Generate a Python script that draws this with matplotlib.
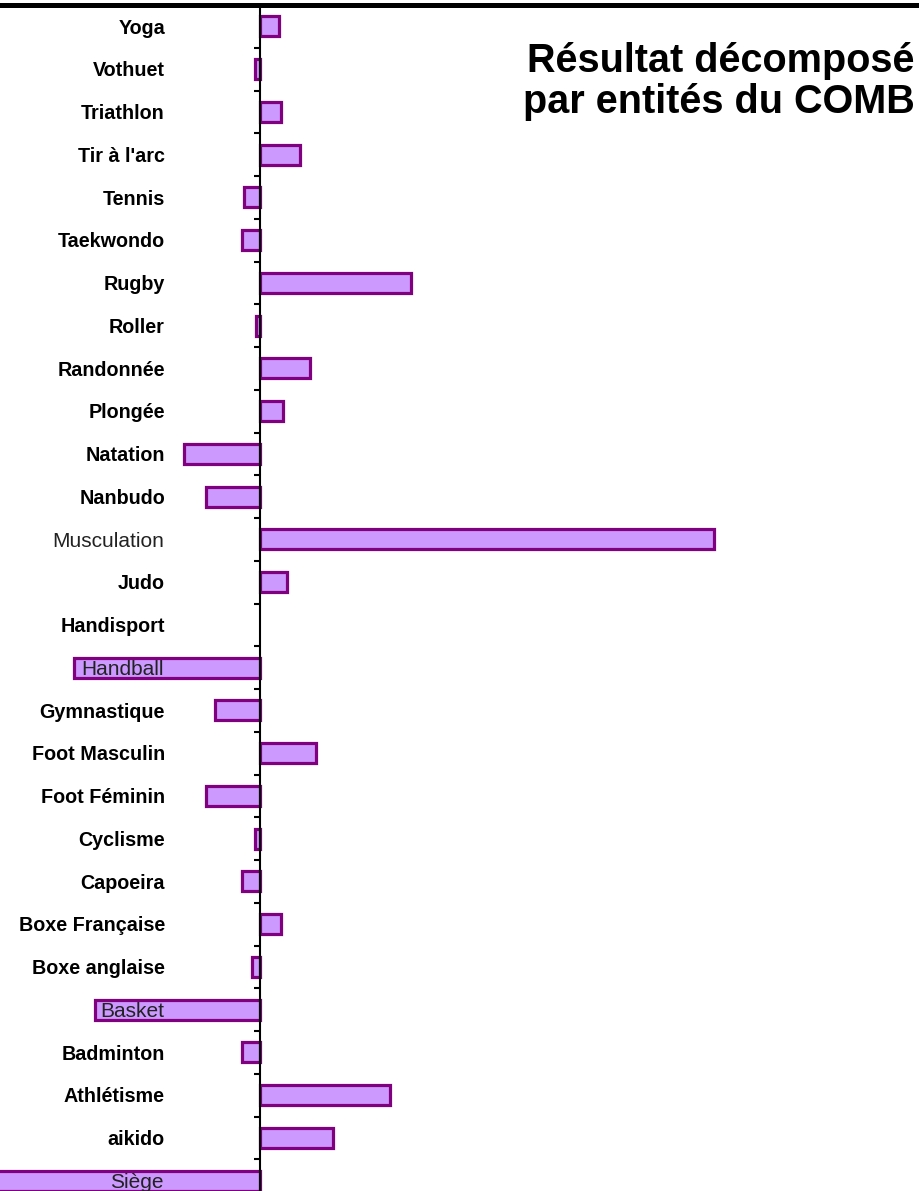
import matplotlib.pyplot as plt

# categories from top to bottom (arbitrary units)
entites = ['Yoga', 'Vothuet', 'Triathlon', "Tir à l'arc", 'Tennis', 'Taekwondo',
           'Rugby', 'Roller', 'Randonnée', 'Plongée', 'Natation', 'Nanbudo',
           'Musculation', 'Judo', 'Handisport', 'Handball', 'Gymnastique',
           'Foot Masculin', 'Foot Féminin', 'Cyclisme', 'Capoeira',
           'Boxe Française', 'Boxe anglaise', 'Basket', 'Badminton',
           'Athlétisme', 'aikido', 'Siège']
resultats = [19, -5, 21, 40, -16, -18,
             151, -4, 50, 23, -76, -54,
             454, 27, 0, -186, -45,
             56, -54, -5, -18,
             21, -8, -165, -18,
             130, 73, -300]
# labels rendered in plain weight (drawn on top of the bars in the original)
labels_normaux = ['Musculation', 'Handball', 'Basket', 'Siège']

fig = plt.figure(figsize=(9.2, 11.91), dpi=100)
ax = fig.add_axes([0, 1 - 1202 / 1191, 1, 1197 / 1191])

pos = list(range(len(entites)))
lw = [0 if v == 0 else 2.3 for v in resultats]
ax.barh(pos, resultats, height=0.47, color='#CC99FF', edgecolor='#800080',
        linewidth=lw, zorder=1)

ax.set_xlim(-260, 660)
ax.set_ylim(len(entites) - 0.5, -0.5)

# axis at zero with ticks between the categories
for s in ['right', 'bottom']:
    ax.spines[s].set_visible(False)
ax.spines['left'].set_position(('data', 0))
ax.spines['left'].set_linewidth(1.5)
ax.spines['left'].set_zorder(3)
ax.spines['top'].set_linewidth(3.6)
ax.set_xticks([])
ax.set_yticks([i + 0.5 for i in range(len(entites) - 1)])
ax.set_yticklabels([])
ax.tick_params(axis='y', direction='out', length=4.5, width=1.5)

for i, nom in enumerate(entites):
    if nom in labels_normaux:
        ax.text(-96, i + 0.04, nom, ha='right', va='center', fontsize=15,
                family='Liberation Sans', color='#222222', zorder=4)
    else:
        ax.text(-95, i + 0.04, nom, ha='right', va='center', fontsize=14.2,
                family='Liberation Sans', fontweight='bold', zorder=4)

fig.text(0.994, 0.965, 'Résultat décomposé\npar entités du COMB', ha='right',
         va='top', fontsize=28.5, fontweight='bold', family='Liberation Sans',
         linespacing=1.1)

fig.savefig('out.png', dpi=100)
